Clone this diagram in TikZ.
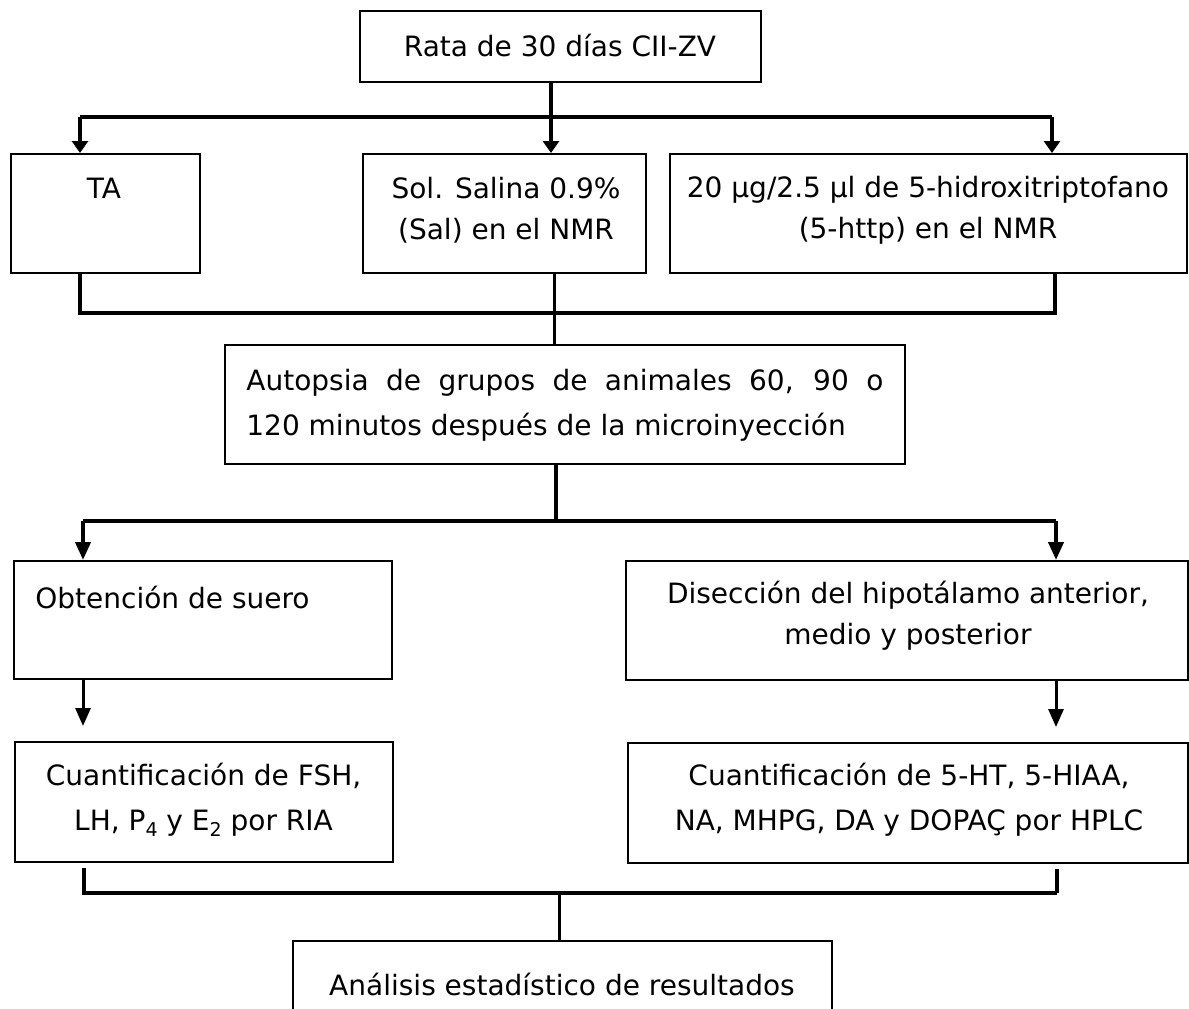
\documentclass[tikz,border=0pt]{standalone}
\usepackage{fontspec}
\setmainfont{DejaVu Sans}
\usetikzlibrary{arrows.meta}
\newcommand{\lowidx}[1]{\raisebox{-0.35ex}{\fontsize{9.5}{9.5}\selectfont #1}}
\tikzset{
  box/.style={draw, line width=1pt, inner sep=0pt},
  txt/.style={inner sep=0pt, align=center, font=\fontsize{14}{20.5}\selectfont},
  bus/.style={line width=2pt},
  link/.style={line width=1.5pt},
  tip/.style={-{Triangle[length=6pt,width=8pt]}},
  longtip/.style={-{Triangle[length=9pt,width=7.5pt]}},
}
\begin{document}
\begin{tikzpicture}[x=0.5pt,y=-0.5pt]
\useasboundingbox (0,0) rectangle (1189,1008);
\fill[white] (0,0) rectangle (1189,1008);

% boxes
\node[box, minimum width=200.5pt, minimum height=35.5pt] (top) at (560.5,46.5) {};
\node[box, minimum width=94.5pt, minimum height=59.5pt] (ta) at (105.5,213.5) {};
\node[box, minimum width=141.5pt, minimum height=59.5pt] (sal) at (504.5,213.5) {};
\node[box, minimum width=258.5pt, minimum height=59.5pt] (htp) at (928.5,213.5) {};
\node[box, minimum width=340pt, minimum height=59.5pt] (aut) at (565,404.5) {};
\node[box, minimum width=189pt, minimum height=59pt] (obt) at (203,620) {};
\node[box, minimum width=281pt, minimum height=59.5pt] (dis) at (907,620.5) {};
\node[box, minimum width=189pt, minimum height=60pt] (cqa) at (204,802) {};
\node[box, minimum width=280pt, minimum height=60pt] (cqb) at (908,803) {};
\node[box, minimum width=269.5pt, minimum height=44pt] (ana) at (562.5,985) {};

% texts
\node[txt] (topT) at (560,45) {Rata de 30 días CII-ZV};
\node[txt] (taT) at (104,188) {TA};
\node[txt] (salT) at (506,210) {Sol. Salina 0.9\%\\(Sal) en el NMR};
\node[txt] (htpT) at (928,210) {20 µg/2.5 µl de 5-hidroxitriptofano\\(5-http) en el NMR};
\node[txt, align=left, anchor=west] (autT) at (246,405) {\makebox[318.5pt][s]{Autopsia de grupos de animales 60, 90 o}\\[2pt]120 minutos después de la microinyección};
\node[txt, anchor=west] (obtT) at (35,597) {Obtención de suero};
\node[txt] (disT) at (908,616) {Disección del hipotálamo anterior,\\medio y posterior};
\node[txt] (cqaT) at (203.5,800) {Cuantificación de FSH,\\[2pt]LH, P\lowidx{4} y E\lowidx{2} por RIA};
\node[txt] (cqbT) at (909,800) {Cuantificación de 5-HT, 5-HIAA,\\[2pt]NA, MHPG, DA y DOPAÇ por HPLC};
\node[txt] (anaT) at (562,984) {Análisis estadístico de resultados};

% first split
\coordinate (s1) at (551,117);
\draw[bus] (top.south -| s1) -- (s1);
\draw[bus] (s1 -| 80,0) -- (s1 -| 1052,0);
\draw[bus, tip] (s1 -| 80,0) -- (ta.north -| 80,0);
\draw[bus, tip] (s1) -- (sal.north -| s1);
\draw[bus, tip] (s1 -| 1052,0) -- (htp.north -| 1052,0);

% merge of the three groups
\coordinate (m1) at (554,313);
\draw[bus] (ta.south -| 80,0) -- (m1 -| 80,0) -- (m1 -| 1055,0) -- (htp.south -| 1055,0);
\draw[link] (sal.south -| m1) -- (aut.north -| m1);

% second split
\coordinate (s2) at (556,521);
\draw[bus] (aut.south -| s2) -- (s2);
\draw[bus] (s2 -| 83,0) -- (s2 -| 1056,0);
\draw[bus, longtip] (s2 -| 83,0) -- (obt.north -| 83,0);
\draw[bus, longtip] (s2 -| 1056,0) -- (dis.north -| 1056,0);

% processing steps
\draw[link, longtip, shorten >=7.5pt] (obt.south -| 83,0) -- (cqa.north -| 83,0);
\draw[link, longtip, shorten >=7.5pt] (dis.south -| 1056,0) -- (cqb.north -| 1056,0);

% final merge
\coordinate (m2) at (559,893);
\draw[bus, shorten <=2.5pt] (cqa.south -| 84,0) -- (m2 -| 84,0) -- (m2 -| 1057,0);
\draw[bus, shorten >=2.5pt] (m2 -| 1057,0) -- (cqb.south -| 1057,0);
\draw[link] (m2) -- (ana.north -| m2);
\end{tikzpicture}
\end{document}
